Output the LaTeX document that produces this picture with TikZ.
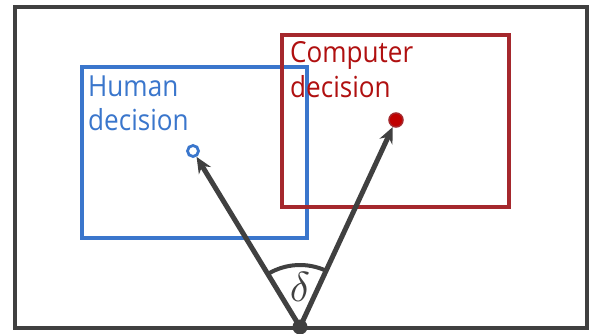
\documentclass[tikz,border=0pt]{standalone}
\usepackage{fontspec}
\setmainfont{Open Sans}[FakeStretch=0.9]
\usetikzlibrary{arrows.meta,calc}
\definecolor{frameGray}{HTML}{404040}
\definecolor{humBlue}{HTML}{3A76CC}
\definecolor{compRed}{HTML}{A5282D}
\definecolor{compText}{HTML}{B01010}
\definecolor{dotRed}{HTML}{C00000}
\begin{document}
\begin{tikzpicture}[x=1pt,y=1pt,
  framebox/.style={draw=frameGray,line width=4pt},
  humbox/.style={draw=humBlue,line width=3.5pt},
  compbox/.style={draw=compRed,line width=3.5pt},
  humlabel/.style={text=humBlue,font=\fontsize{29}{34}\selectfont,anchor=base west,inner sep=0pt},
  complabel/.style={text=compText,font=\fontsize{29}{34}\selectfont,anchor=base west,inner sep=0pt},
  vec/.style={draw=frameGray,line width=5pt,-{Stealth[length=16pt,width=14pt]}},
  anglearc/.style={draw=frameGray,line width=4pt}
]
\useasboundingbox (0,0) rectangle (599,333);
\fill[white] (0,0) rectangle (599,333);
\draw[framebox] (15,5) rectangle (587,326);
\draw[humbox] (82,95) rectangle (307,266);
\draw[compbox] (282,126) rectangle (509,298);
\node[humlabel] (hum1) at (88,237) {Human};
\node[humlabel] (hum2) at (88,203) {decision};
\node[complabel] (comp1) at (290,271) {Computer};
\node[complabel] (comp2) at (290,236) {decision};
\node[circle,draw=humBlue,line width=2.8pt,fill=white,minimum size=11pt,inner sep=0pt] (hd) at (193,182) {};
\node[circle,draw=compRed,fill=dotRed,line width=1.5pt,minimum size=14pt,inner sep=0pt] (cd) at (396,213) {};
\coordinate (O) at (300,6);
\draw[vec] (O) -- (hd);
\draw[vec] (O) -- (cd);
\draw[anglearc] ($(O)+(65.1:62)$) arc (65.1:121.3:62);
\fill[frameGray] (O) circle (7.5);
\node[inner sep=0pt,text=frameGray] (delta) at (300,46) {\scalebox{4.2}{$\delta$}};
\end{tikzpicture}
\end{document}
